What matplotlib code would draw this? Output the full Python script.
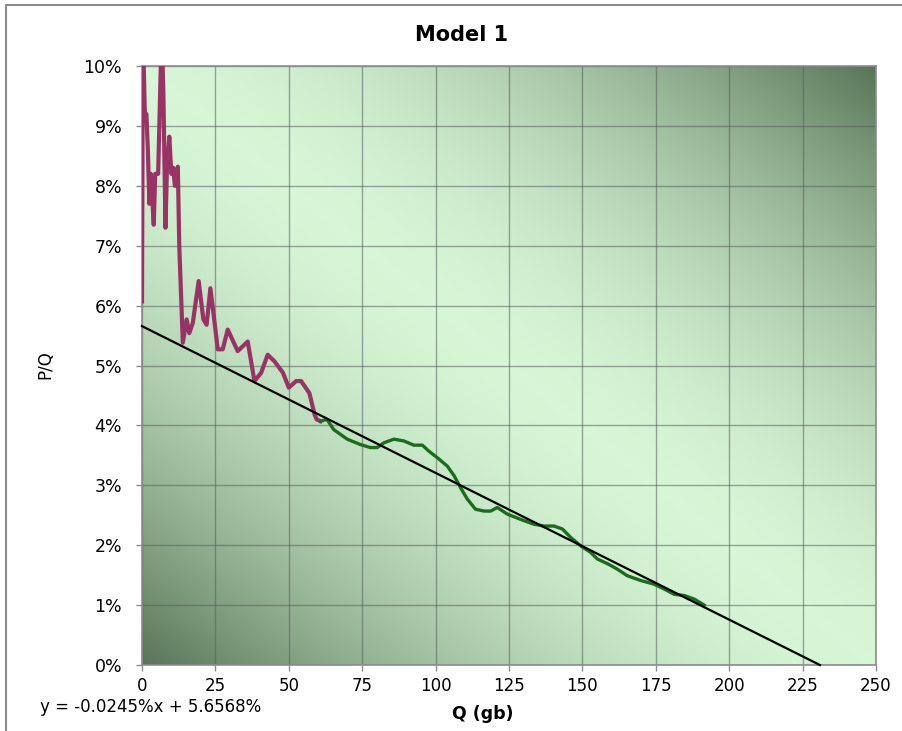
import numpy as np
import matplotlib
matplotlib.use('Agg')
import matplotlib.pyplot as plt
from matplotlib.lines import Line2D
from matplotlib.ticker import FuncFormatter

# Early part of the series (purple), Q in gb, P/Q in percent
purple_q = [0.0, 0.3, 1.0, 1.5, 2.0, 2.5, 3.0, 3.5, 4.0, 4.5, 5.5, 6.7, 7.3, 8.0,
            8.5, 9.3, 10.0, 10.6, 11.2, 12.2, 12.7, 13.9, 15.2, 16.1, 17.3, 19.3,
            20.9, 22.0, 23.3, 25.0, 25.8, 27.5, 29.2, 32.6, 36.0, 38.3, 40.6, 42.8,
            45.1, 48.0, 50.0, 52.5, 54.2, 57.0, 58.8, 59.5, 60.8]
purple_p = [6.07, 10.6, 9.15, 9.2, 8.6, 7.7, 8.2, 7.8, 7.35, 8.2, 8.2, 10.6, 9.5, 7.3,
            8.3, 8.82, 8.2, 8.3, 8.0, 8.32, 6.99, 5.38, 5.77, 5.54, 5.71, 6.41,
            5.77, 5.68, 6.29, 5.6, 5.27, 5.27, 5.6, 5.24, 5.4, 4.74, 4.88, 5.18,
            5.07, 4.88, 4.63, 4.74, 4.74, 4.54, 4.18, 4.1, 4.07]

# Later part of the series (green)
green_q = [60.8, 63.0, 65.3, 69.9, 74.4, 77.8, 80.1, 82.4, 85.8, 89.2, 92.6, 95.5,
           97.7, 100.6, 104.0, 106.3, 108.5, 110.8, 113.6, 116.5, 118.8, 121.0,
           124.4, 129.0, 133.5, 136.9, 140.3, 143.2, 146.0, 149.4, 152.8, 155.1,
           159.0, 161.9, 165.3, 169.9, 174.4, 177.8, 181.3, 184.7, 188.1, 191.5]
green_p = [4.07, 4.1, 3.93, 3.77, 3.68, 3.63, 3.63, 3.71, 3.77, 3.74, 3.67, 3.67,
           3.57, 3.46, 3.32, 3.16, 2.96, 2.77, 2.6, 2.57, 2.57, 2.63,
           2.52, 2.43, 2.35, 2.32, 2.32, 2.27, 2.13, 1.99, 1.88, 1.77,
           1.68, 1.6, 1.49, 1.41, 1.35, 1.27, 1.18, 1.16, 1.1, 1.0]

# Linear trend fitted in the original chart
slope = -0.0245
intercept = 5.6568

x_ticks = [0, 25, 50, 75, 100, 125, 150, 175, 200, 225, 250]
y_ticks = [0, 1, 2, 3, 4, 5, 6, 7, 8, 9, 10]

fig = plt.figure(figsize=(9.02, 7.31), dpi=100)
ax = fig.add_axes([142 / 902, 1 - 665 / 731, (876 - 142) / 902, (665 - 66) / 731])

# chart border (Excel chart area)
fig.add_artist(Line2D([6 / 902, 6 / 902], [0, 1 - 5 / 731], color='#8c8c8c', lw=1.5,
                      transform=fig.transFigure))
fig.add_artist(Line2D([6 / 902, 1], [1 - 5 / 731, 1 - 5 / 731], color='#8c8c8c', lw=1.5,
                      transform=fig.transFigure))

# diagonal gradient fill of the plot area: light along the anti-diagonal, dark corners
gx, gy = np.meshgrid(np.linspace(0, 1, 300), np.linspace(1, 0, 300))
t = np.clip(np.abs(gx + gy - 1), 0, 1) ** 1.7
light = np.array([0.84, 0.965, 0.84])
dark = np.array([0.35, 0.46, 0.35])
img = light[None, None, :] * (1 - t[..., None]) + dark[None, None, :] * t[..., None]
ax.imshow(img, extent=[0, 250, 0, 10], aspect='auto', zorder=0, interpolation='bilinear')

ax.set_xlim(0, 250)
ax.set_ylim(0, 10)
ax.set_xticks(x_ticks)
ax.set_yticks(y_ticks)
ax.yaxis.set_major_formatter(FuncFormatter(lambda v, p: '%d%%' % v))
ax.set_axisbelow(True)
ax.grid(True, color='#55605a', lw=1, alpha=0.55)

for s in ax.spines.values():
    s.set_color('#8c8c8c')
    s.set_linewidth(1.2)
ax.tick_params(axis='both', labelsize=12.5, colors='#8c8c8c', labelcolor='black',
               length=4.3, width=1, direction='out')
ax.tick_params(axis='x', labelsize=12, pad=4)
ax.tick_params(axis='y', pad=10)

ax.plot(purple_q, purple_p, color='#993366', lw=3, solid_joinstyle='round', zorder=3)
ax.plot(green_q, green_p, color='#1d6b1d', lw=2.4, solid_joinstyle='round', zorder=3)

x_end = -intercept / slope
trend_x = np.array([0, x_end])
ax.plot(trend_x, intercept + slope * trend_x, color='black', lw=1.6, zorder=4, clip_on=False)

fig.text(462 / 902, 1 - 35 / 731, 'Model 1', fontsize=15, fontweight='bold',
         ha='center', va='center')
fig.text(45 / 902, 1 - 365 / 731, 'P/Q', fontsize=12, rotation=90,
         ha='center', va='center')
fig.text(483 / 902, 1 - 714 / 731, 'Q (gb)', fontsize=12.5, fontweight='bold',
         ha='center', va='center')
fig.text(40 / 902, 1 - 707 / 731, 'y = -0.0245%x + 5.6568%', fontsize=12,
         ha='left', va='center')

fig.savefig('out.png', dpi=100)
